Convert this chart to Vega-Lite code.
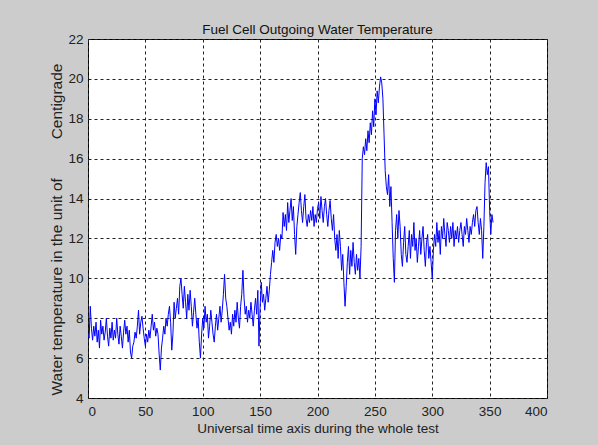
{
  "$schema": "https://vega.github.io/schema/vega-lite/v6.json",
  "width": 459,
  "height": 359,
  "autosize": {"type": "none"},
  "padding": {"left": 88, "top": 39, "right": 51, "bottom": 47},
  "background": "#cccccc",
  "title": {
    "text": "Fuel Cell Outgoing Water Temperature",
    "font": "Liberation Sans",
    "fontSize": 13.5,
    "fontWeight": "normal",
    "color": "#111111",
    "anchor": "middle",
    "frame": "group",
    "dy": 8
  },
  "data": {
    "values": [
      {"t":0,"v":7.2},{"t":1,"v":7.0},{"t":2,"v":8.6},{"t":3,"v":7.5},{"t":4,"v":6.9},{"t":5,"v":7.6},{"t":6,"v":7.1},{"t":7,"v":7.8},{"t":8,"v":6.8},{"t":9,"v":7.4},
      {"t":10,"v":6.5},{"t":11,"v":7.9},{"t":12,"v":7.2},{"t":13,"v":7.6},{"t":14,"v":6.9},{"t":15,"v":7.3},{"t":16,"v":8.0},{"t":17,"v":7.1},{"t":18,"v":6.6},{"t":19,"v":7.5},
      {"t":20,"v":7.0},{"t":21,"v":7.8},{"t":22,"v":6.9},{"t":23,"v":7.4},{"t":24,"v":7.0},{"t":25,"v":8.0},{"t":26,"v":7.2},{"t":27,"v":6.7},{"t":28,"v":7.6},{"t":29,"v":7.1},
      {"t":30,"v":6.5},{"t":31,"v":7.3},{"t":32,"v":7.9},{"t":33,"v":7.2},{"t":34,"v":7.6},{"t":35,"v":6.8},{"t":36,"v":7.4},{"t":37,"v":6.3},{"t":38,"v":6.0},{"t":39,"v":6.6},
      {"t":40,"v":6.8},{"t":41,"v":7.3},{"t":42,"v":7.0},{"t":43,"v":7.6},{"t":44,"v":8.4},{"t":45,"v":7.2},{"t":46,"v":7.8},{"t":47,"v":8.1},{"t":48,"v":7.5},{"t":49,"v":7.0},
      {"t":50,"v":6.6},{"t":51,"v":7.2},{"t":52,"v":6.8},{"t":53,"v":7.4},{"t":54,"v":7.0},{"t":55,"v":7.6},{"t":56,"v":8.2},{"t":57,"v":7.4},{"t":58,"v":7.8},{"t":59,"v":7.1},
      {"t":60,"v":7.5},{"t":61,"v":7.2},{"t":62,"v":6.2},{"t":63,"v":5.4},{"t":64,"v":6.5},{"t":65,"v":7.0},{"t":66,"v":7.6},{"t":67,"v":7.2},{"t":68,"v":8.0},{"t":69,"v":7.6},
      {"t":70,"v":8.2},{"t":71,"v":8.6},{"t":72,"v":7.8},{"t":73,"v":6.4},{"t":74,"v":7.2},{"t":75,"v":8.8},{"t":76,"v":8.0},{"t":77,"v":8.5},{"t":78,"v":9.0},{"t":79,"v":8.2},
      {"t":80,"v":9.6},{"t":81,"v":10.0},{"t":82,"v":9.2},{"t":83,"v":8.5},{"t":84,"v":9.6},{"t":85,"v":8.8},{"t":86,"v":8.0},{"t":87,"v":9.2},{"t":88,"v":8.4},{"t":89,"v":9.4},
      {"t":90,"v":8.6},{"t":91,"v":7.6},{"t":92,"v":8.3},{"t":93,"v":9.0},{"t":94,"v":8.2},{"t":95,"v":7.5},{"t":96,"v":8.0},{"t":97,"v":6.8},{"t":98,"v":6.0},{"t":99,"v":7.2},
      {"t":100,"v":8.0},{"t":101,"v":7.5},{"t":102,"v":8.6},{"t":103,"v":7.8},{"t":104,"v":8.2},{"t":105,"v":7.0},{"t":106,"v":7.6},{"t":107,"v":8.4},{"t":108,"v":7.8},{"t":109,"v":7.2},
      {"t":110,"v":6.8},{"t":111,"v":7.6},{"t":112,"v":8.2},{"t":113,"v":7.4},{"t":114,"v":8.0},{"t":115,"v":8.6},{"t":116,"v":7.8},{"t":117,"v":8.4},{"t":118,"v":9.2},{"t":119,"v":10.2},
      {"t":120,"v":9.0},{"t":121,"v":8.6},{"t":122,"v":8.0},{"t":123,"v":7.4},{"t":124,"v":7.8},{"t":125,"v":7.2},{"t":126,"v":8.2},{"t":127,"v":7.6},{"t":128,"v":8.4},{"t":129,"v":7.8},
      {"t":130,"v":8.8},{"t":131,"v":8.0},{"t":132,"v":7.5},{"t":133,"v":8.6},{"t":134,"v":9.2},{"t":135,"v":10.4},{"t":136,"v":9.0},{"t":137,"v":8.2},{"t":138,"v":8.6},{"t":139,"v":7.8},
      {"t":140,"v":8.4},{"t":141,"v":8.0},{"t":142,"v":8.8},{"t":143,"v":8.2},{"t":144,"v":7.6},{"t":145,"v":8.4},{"t":146,"v":9.0},{"t":147,"v":8.2},{"t":148,"v":9.4},{"t":149,"v":6.6},
      {"t":150,"v":8.6},{"t":151,"v":9.8},{"t":152,"v":8.8},{"t":153,"v":9.2},{"t":154,"v":8.4},{"t":155,"v":9.0},{"t":156,"v":9.6},{"t":157,"v":8.8},{"t":158,"v":9.4},{"t":159,"v":10.2},
      {"t":160,"v":10.8},{"t":161,"v":11.4},{"t":162,"v":10.8},{"t":163,"v":11.8},{"t":164,"v":12.2},{"t":165,"v":11.6},{"t":166,"v":12.0},{"t":167,"v":11.4},{"t":168,"v":12.2},{"t":169,"v":12.0},
      {"t":170,"v":13.3},{"t":171,"v":12.6},{"t":172,"v":13.2},{"t":173,"v":12.4},{"t":174,"v":13.8},{"t":175,"v":12.8},{"t":176,"v":13.4},{"t":177,"v":14.0},{"t":178,"v":12.9},{"t":179,"v":13.6},
      {"t":180,"v":12.2},{"t":181,"v":11.2},{"t":182,"v":12.6},{"t":183,"v":13.2},{"t":184,"v":13.8},{"t":185,"v":14.3},{"t":186,"v":13.4},{"t":187,"v":12.8},{"t":188,"v":13.6},{"t":189,"v":14.2},
      {"t":190,"v":13.0},{"t":191,"v":12.6},{"t":192,"v":13.2},{"t":193,"v":12.8},{"t":194,"v":13.4},{"t":195,"v":12.9},{"t":196,"v":13.6},{"t":197,"v":12.6},{"t":198,"v":13.2},{"t":199,"v":12.8},
      {"t":200,"v":13.5},{"t":201,"v":13.8},{"t":202,"v":13.0},{"t":203,"v":14.1},{"t":204,"v":13.4},{"t":205,"v":12.8},{"t":206,"v":13.6},{"t":207,"v":14.0},{"t":208,"v":13.2},{"t":209,"v":12.6},
      {"t":210,"v":13.4},{"t":211,"v":13.9},{"t":212,"v":13.0},{"t":213,"v":12.4},{"t":214,"v":13.2},{"t":215,"v":12.0},{"t":216,"v":11.4},{"t":217,"v":12.2},{"t":218,"v":11.0},{"t":219,"v":12.4},
      {"t":220,"v":11.6},{"t":221,"v":10.4},{"t":222,"v":11.2},{"t":223,"v":9.8},{"t":224,"v":8.6},{"t":225,"v":9.6},{"t":226,"v":10.8},{"t":227,"v":11.6},{"t":228,"v":10.2},{"t":229,"v":11.4},
      {"t":230,"v":10.6},{"t":231,"v":11.8},{"t":232,"v":10.8},{"t":233,"v":10.2},{"t":234,"v":11.2},{"t":235,"v":10.4},{"t":236,"v":11.0},{"t":237,"v":10.0},{"t":238,"v":11.6},{"t":239,"v":16.0},
      {"t":240,"v":16.6},{"t":241,"v":16.2},{"t":242,"v":17.0},{"t":243,"v":16.4},{"t":244,"v":17.4},{"t":245,"v":16.8},{"t":246,"v":17.8},{"t":247,"v":17.2},{"t":248,"v":18.4},{"t":249,"v":17.6},
      {"t":250,"v":19.0},{"t":251,"v":18.2},{"t":252,"v":19.4},{"t":253,"v":18.8},{"t":254,"v":19.6},{"t":255,"v":20.1},{"t":256,"v":19.8},{"t":257,"v":19.0},{"t":258,"v":17.2},{"t":259,"v":15.4},
      {"t":260,"v":14.6},{"t":261,"v":14.2},{"t":262,"v":15.2},{"t":263,"v":13.6},{"t":264,"v":14.6},{"t":265,"v":12.8},{"t":266,"v":11.0},{"t":267,"v":9.8},{"t":268,"v":12.4},{"t":269,"v":13.2},
      {"t":270,"v":12.0},{"t":271,"v":13.4},{"t":272,"v":12.6},{"t":273,"v":11.2},{"t":274,"v":10.6},{"t":275,"v":11.8},{"t":276,"v":12.6},{"t":277,"v":11.2},{"t":278,"v":10.8},{"t":279,"v":11.6},
      {"t":280,"v":12.4},{"t":281,"v":11.0},{"t":282,"v":12.2},{"t":283,"v":11.6},{"t":284,"v":12.8},{"t":285,"v":11.4},{"t":286,"v":12.0},{"t":287,"v":10.8},{"t":288,"v":11.6},{"t":289,"v":12.4},
      {"t":290,"v":11.2},{"t":291,"v":12.0},{"t":292,"v":12.6},{"t":293,"v":11.4},{"t":294,"v":10.6},{"t":295,"v":11.8},{"t":296,"v":12.2},{"t":297,"v":11.0},{"t":298,"v":11.6},{"t":299,"v":10.8},
      {"t":300,"v":10.0},{"t":301,"v":11.4},{"t":302,"v":12.2},{"t":303,"v":11.6},{"t":304,"v":12.8},{"t":305,"v":11.8},{"t":306,"v":12.4},{"t":307,"v":11.2},{"t":308,"v":12.6},{"t":309,"v":12.0},
      {"t":310,"v":13.0},{"t":311,"v":12.2},{"t":312,"v":11.6},{"t":313,"v":12.8},{"t":314,"v":12.4},{"t":315,"v":11.8},{"t":316,"v":12.6},{"t":317,"v":12.0},{"t":318,"v":12.8},{"t":319,"v":11.6},
      {"t":320,"v":12.4},{"t":321,"v":12.0},{"t":322,"v":12.6},{"t":323,"v":11.8},{"t":324,"v":12.4},{"t":325,"v":12.8},{"t":326,"v":12.2},{"t":327,"v":11.6},{"t":328,"v":12.6},{"t":329,"v":12.2},
      {"t":330,"v":13.0},{"t":331,"v":12.4},{"t":332,"v":11.8},{"t":333,"v":12.6},{"t":334,"v":12.2},{"t":335,"v":12.8},{"t":336,"v":13.2},{"t":337,"v":12.6},{"t":338,"v":13.4},{"t":339,"v":13.6},
      {"t":340,"v":12.8},{"t":341,"v":12.2},{"t":342,"v":13.0},{"t":343,"v":12.4},{"t":344,"v":11.0},{"t":345,"v":12.6},{"t":346,"v":14.8},{"t":347,"v":15.8},{"t":348,"v":15.2},{"t":349,"v":15.6},
      {"t":350,"v":13.4},{"t":351,"v":12.2},{"t":352,"v":13.2},{"t":353,"v":12.8}
    ]
  },
  "mark": {"type": "line", "color": "#0000ff", "strokeWidth": 1, "clip": true},
  "encoding": {
    "x": {
      "field": "t",
      "type": "quantitative",
      "scale": {"domain": [0, 400], "nice": false, "zero": false},
      "axis": {
        "values": [0, 50, 100, 150, 200, 250, 300, 350, 400],
        "title": "Universal time axis during the whole test",
        "labelPadding": 6,
        "titlePadding": 4
      }
    },
    "y": {
      "field": "v",
      "type": "quantitative",
      "scale": {"domain": [4, 22], "nice": false, "zero": false},
      "axis": {
        "values": [4, 6, 8, 10, 12, 14, 16, 18, 20, 22],
        "title": "Water temperature in the unit of\u00a0\u00a0\u00a0\u00a0\u00a0\u00a0\u00a0\u00a0\u00a0Centigrade",
        "titleFontSize": 15.5,
        "labelPadding": 5,
        "titleAngle": -90,
        "titleAlign": "left",
        "titleBaseline": "alphabetic",
        "titleX": -27,
        "titleY": 356
      }
    }
  },
  "config": {
    "view": {"fill": "white", "stroke": "black", "strokeWidth": 1},
    "axis": {
      "grid": true,
      "gridColor": "#222222",
      "gridDash": [3, 3],
      "gridOpacity": 1,
      "gridWidth": 1,
      "domain": false,
      "ticks": false,
      "labelFont": "Liberation Sans",
      "labelFontSize": 13.5,
      "labelColor": "#222222",
      "titleFont": "Liberation Sans",
      "titleFontSize": 13.5,
      "titleFontWeight": "normal",
      "titleColor": "#222222"
    }
  }
}
